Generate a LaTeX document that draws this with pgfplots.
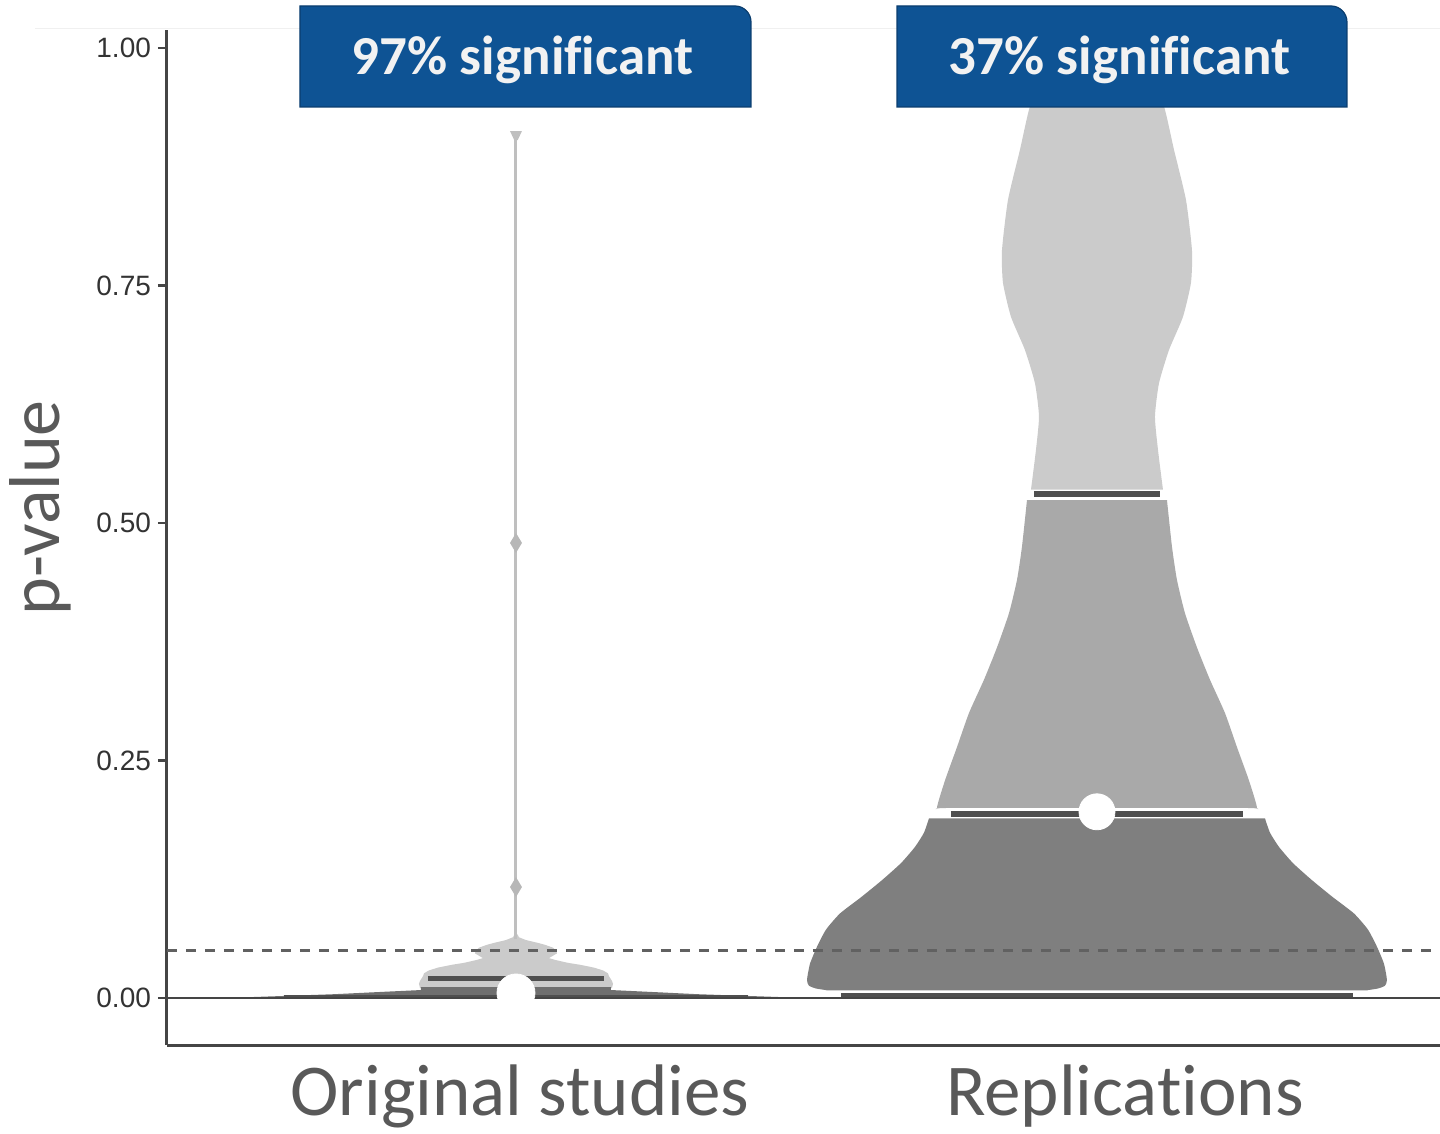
\documentclass[border=0pt]{standalone}
\usepackage{fontspec}
\usepackage{pgfplots}
\pgfplotsset{compat=1.18}
\setmainfont{Carlito}[Ligatures=NoCommon]
\newfontfamily\ticksfont{Liberation Sans}

\definecolor{lightv}{HTML}{CBCBCB}
\definecolor{midv}{HTML}{A9A9A9}
\definecolor{darkv}{HTML}{7F7F7F}
\definecolor{baseorig}{HTML}{6F6F6F}
\definecolor{qline}{HTML}{4F4F4F}
\definecolor{thinv}{HTML}{BFBFBF}
\definecolor{spine}{HTML}{454545}
\definecolor{tickc}{HTML}{333333}
\definecolor{labc}{HTML}{595959}
\definecolor{boxblue}{HTML}{0E5394}
\definecolor{boxedge}{HTML}{0A3D6E}

\begin{document}
\begin{tikzpicture}
\begin{axis}[
    scale only axis,
    width=636.5pt, height=507.5pt,
    xmin=0.3993, xmax=2.5904,
    ymin=-0.0495, ymax=1.0189,
    axis x line*=bottom, axis y line*=left,
    axis line style={line width=1.5pt, color=spine, -},
    xtick=\empty,
    ytick={0,0.25,0.5,0.75,1},
    yticklabels={0.00,0.25,0.50,0.75,1.00},
    tick align=outside,
    major tick length=4.5pt,
    tick style={line width=1.2pt, color=spine},
    yticklabel style={font=\ticksfont\fontsize{14}{16}\selectfont, text=tickc},
    /pgf/number format/assume math mode=true,
    clip=false,
]

% faint rule at the top of the slide
\draw[color=black!6, line width=0.5pt] (axis cs:0.1721,1.021) -- (axis cs:2.5904,1.021);

% --- original studies: light part
\addplot[fill=lightv, draw=none] coordinates {
    (1.1652,0.0105) (1.1670,0.015) (1.1652,0.018) (1.1600,0.023) (1.1583,0.026)
    (1.1500,0.029) (1.1343,0.032) (1.1100,0.035) (1.0895,0.037) (1.0680,0.040)
    (1.0568,0.042) (1.0650,0.045) (1.0706,0.047) (1.0690,0.050) (1.0637,0.053)
    (1.0500,0.056) (1.0379,0.058) (1.0172,0.061) (1.0050,0.064) (1.0026,0.067)
    (0.9974,0.067) (0.9950,0.064) (0.9828,0.061) (0.9621,0.058) (0.9500,0.056)
    (0.9363,0.053) (0.9310,0.050) (0.9294,0.047) (0.9350,0.045) (0.9432,0.042)
    (0.9320,0.040) (0.9105,0.037) (0.8900,0.035) (0.8657,0.032) (0.8500,0.029)
    (0.8417,0.026) (0.8400,0.023) (0.8348,0.018) (0.8330,0.015) (0.8348,0.0105)
} -- cycle;
% dark base
\addplot[fill=baseorig, draw=none] coordinates {
    (1.5009,0) (1.4165,0.0018) (1.3133,0.004) (1.2289,0.0065) (1.1635,0.0084)
    (1.1635,0.0115) (0.8365,0.0115) (0.8365,0.0084) (0.7711,0.0065)
    (0.6867,0.004) (0.5835,0.0018) (0.4991,0)
} -- cycle;
% thin tail
\addplot[thinv, line width=1.5pt] coordinates {(1,0.062) (1,0.906)};
\addplot[fill=thinv, draw=none] coordinates {(0.9897,0.9126) (1.0103,0.9126) (1.0030,0.9030) (0.9970,0.9030)} -- cycle;
\addplot[fill=lightv!90!black, draw=none] coordinates {(1,0.4895) (1.0103,0.4790) (1,0.4685) (0.9897,0.4790)} -- cycle;
\addplot[fill=lightv!90!black, draw=none] coordinates {(1,0.1273) (1.0103,0.1168) (1,0.1063) (0.9897,0.1168)} -- cycle;
% quantile lines
\addplot[qline, line width=2.4pt] coordinates {(0.8485,0.0205) (1.1515,0.0205)};
\addplot[qline, line width=1.2pt] coordinates {(0.60,0.0016) (1.40,0.0016)};

% --- replications: top part
\addplot[fill=lightv, draw=none, smooth, tension=0.35] coordinates {
    (2.1136,0.535) (2.1050,0.577) (2.0998,0.612) (2.1067,0.647) (2.1239,0.682)
    (2.1480,0.717) (2.1618,0.753) (2.1635,0.787) (2.1532,0.840) (2.1325,0.893)
    (2.1170,0.935) (2.0947,0.975) (2.0516,1.0) (2.0,1.004)
    (1.9484,1.0) (1.9053,0.975) (1.8830,0.935) (1.8675,0.893) (1.8468,0.840)
    (1.8365,0.787) (1.8382,0.753) (1.8520,0.717) (1.8761,0.682) (1.8933,0.647)
    (1.9002,0.612) (1.8950,0.577) (1.8864,0.535)
} -- cycle;
% middle part
\addplot[fill=midv, draw=none, smooth, tension=0.35] coordinates {
    (2.1205,0.524) (2.1291,0.475) (2.1377,0.440) (2.1515,0.405) (2.1721,0.369)
    (2.1945,0.335) (2.2203,0.300) (2.2410,0.264) (2.2616,0.229) (2.2754,0.200)
    (2.2600,0.200) (2.0,0.200) (1.7400,0.200)
    (1.7246,0.200) (1.7384,0.229) (1.7590,0.264) (1.7797,0.300) (1.8055,0.335)
    (1.8279,0.369) (1.8485,0.405) (1.8623,0.440) (1.8709,0.475) (1.8795,0.524)
} -- cycle;
% bottom part
\addplot[fill=darkv, draw=none, smooth, tension=0.35] coordinates {
    (2.2892,0.189) (2.2978,0.174) (2.3133,0.159) (2.3373,0.142) (2.3701,0.124)
    (2.4062,0.106) (2.4423,0.089) (2.4664,0.072) (2.4819,0.054) (2.4940,0.036)
    (2.4991,0.019) (2.4957,0.013) (2.4836,0.010) (2.4613,0.008)
    (2.4400,0.008) (2.0,0.008) (1.5600,0.008)
    (1.5387,0.008) (1.5164,0.010) (1.5043,0.013) (1.5009,0.019) (1.5060,0.036)
    (1.5181,0.054) (1.5336,0.072) (1.5577,0.089) (1.5938,0.106) (1.6299,0.124)
    (1.6627,0.142) (1.6867,0.159) (1.7022,0.174) (1.7108,0.189)
} -- cycle;
% quantile lines
\addplot[qline, line width=3pt] coordinates {(1.8916,0.530) (2.1084,0.530)};
\addplot[qline, line width=3pt] coordinates {(1.7487,0.194) (2.2513,0.194)};
\addplot[qline, line width=2.6pt] coordinates {(1.5594,0.0028) (2.4406,0.0028)};

% significance threshold and zero line
\addplot[spine!85, line width=1.4pt, dash pattern=on 5pt off 4.5pt] coordinates {(0.3993,0.05) (2.5904,0.05)};
\addplot[spine, line width=1.1pt] coordinates {(0.3993,0) (2.5904,0)};

% medians
\addplot[only marks, mark=*, mark size=9.5pt, mark options={fill=white, draw=white}] coordinates {(1,0.0053)};
\addplot[only marks, mark=*, mark size=9pt, mark options={fill=white, draw=white}] coordinates {(2,0.196)};

% banners
\fill[boxblue, draw=boxedge, line width=0.6pt]
    (axis cs:0.6282,0.9379) -- (axis cs:1.4045,0.9379) [rounded corners=8pt] -- (axis cs:1.4045,1.0442) [sharp corners] -- (axis cs:0.6282,1.0442) -- cycle;
\fill[boxblue, draw=boxedge, line width=0.6pt]
    (axis cs:1.6558,0.9379) -- (axis cs:2.4303,0.9379) [rounded corners=8pt] -- (axis cs:2.4303,1.0442) [sharp corners] -- (axis cs:1.6558,1.0442) -- cycle;
\node[anchor=base, text=white!95!black, font=\bfseries\fontsize{27.5}{30}\selectfont] at (axis cs:1.0112,0.9716) {97\% significant};
\node[anchor=base, text=white!95!black, font=\bfseries\fontsize{27.5}{30}\selectfont] at (axis cs:2.0387,0.9716) {37\% significant};

% axis texts
\node[rotate=90, anchor=base, text=labc, font=\fontsize{36}{40}\selectfont] at (axis cs:0.2151,0.5158) {p-value};
\node[anchor=base, text=labc, font=\fontsize{36.5}{40}\selectfont] at (axis cs:1.0069,-0.1232) {Original studies};
\node[anchor=base, text=labc, font=\fontsize{36.5}{40}\selectfont] at (axis cs:2.0482,-0.1232) {Replications};

\coordinate (bbsw) at (axis cs:0.1119,-0.1421);
\coordinate (bbne) at (axis cs:2.5904,1.0505);
\end{axis}
\pgfresetboundingbox
\useasboundingbox (bbsw) rectangle (bbne);
\end{tikzpicture}
\end{document}
